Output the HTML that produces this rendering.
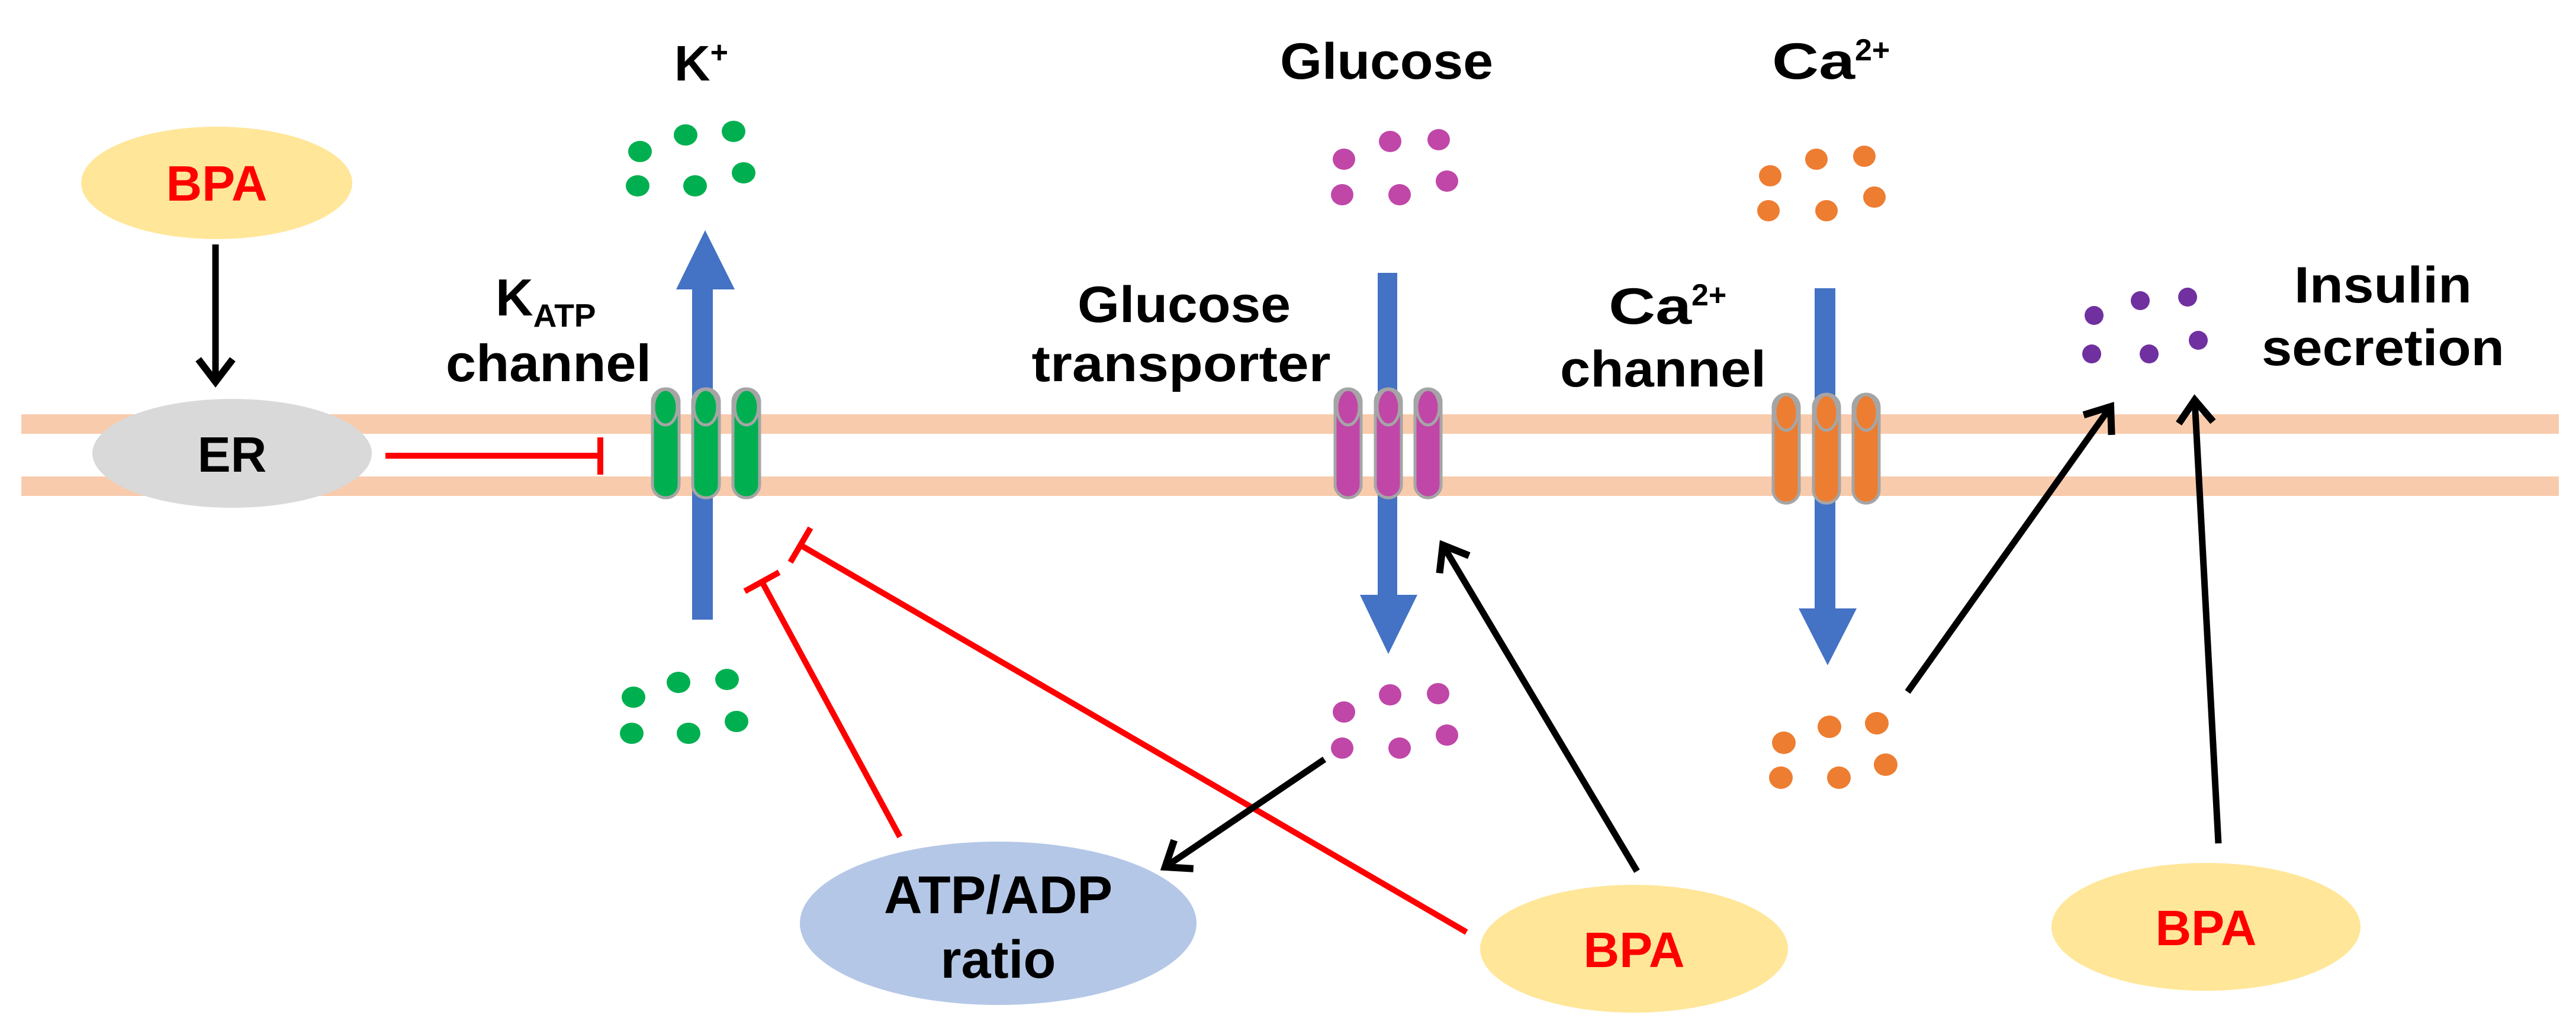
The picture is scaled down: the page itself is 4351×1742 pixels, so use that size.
<!DOCTYPE html>
<html><head><meta charset="utf-8"><style>
html,body{margin:0;padding:0;background:#fff;}
svg{display:block;}
text{font-family:"Liberation Sans",Arial,sans-serif;font-weight:bold;}
</style></head><body>
<svg width="4351" height="1742" viewBox="0 0 4351 1742" xmlns="http://www.w3.org/2000/svg">
<defs>
<marker id="ah" markerWidth="10" markerHeight="10" refX="8" refY="5" orient="auto" markerUnits="userSpaceOnUse" viewBox="0 0 10 10" style="overflow:visible">
<polyline points="-30,-24 8,5 -30,34" fill="none" stroke="#000" stroke-width="12"/>
</marker>
</defs>
<rect width="4351" height="1742" fill="#fff"/>
<rect x="36" y="700" width="4286" height="33" fill="#f8cbad"/>
<rect x="36" y="805" width="4286" height="33" fill="#f8cbad"/>

<ellipse cx="366" cy="309" rx="229" ry="95" fill="#ffe699"/>
<text x="366" y="339" font-size="84" fill="#ff0000" text-anchor="middle">BPA</text>
<line x1="364" y1="413" x2="364" y2="645" stroke="#000" stroke-width="11" marker-end="url(#ah)"/>

<ellipse cx="392" cy="766" rx="236" ry="92" fill="#d9d9d9"/>
<text x="392" y="797" font-size="84" fill="#000" text-anchor="middle">ER</text>
<line x1="651" y1="770" x2="1014" y2="770" stroke="#ff0000" stroke-width="10"/>
<line x1="1014" y1="739" x2="1014" y2="802" stroke="#ff0000" stroke-width="10"/>

<text x="1139" y="136" font-size="84">K<tspan font-size="52" dy="-30">+</tspan></text>
<g fill="#00b050">
<ellipse cx="1081" cy="256" rx="20" ry="18"/><ellipse cx="1158" cy="228" rx="20" ry="18"/><ellipse cx="1239" cy="222" rx="20" ry="18"/>
<ellipse cx="1077" cy="314" rx="20" ry="18"/><ellipse cx="1174" cy="314" rx="20" ry="18"/><ellipse cx="1256" cy="292" rx="20" ry="18"/>
<ellipse cx="1070" cy="1178" rx="20" ry="18"/><ellipse cx="1146" cy="1153" rx="20" ry="18"/><ellipse cx="1228" cy="1148" rx="20" ry="18"/>
<ellipse cx="1067" cy="1239" rx="20" ry="18"/><ellipse cx="1163" cy="1239" rx="20" ry="18"/><ellipse cx="1244" cy="1219" rx="20" ry="18"/>
</g>
<rect x="1169" y="485" width="35" height="562" fill="#4472c4"/>
<polygon points="1142,489 1241,489 1191,389" fill="#4472c4"/>
<text x="837" y="533" font-size="88">K<tspan font-size="55" dy="19">ATP</tspan></text>
<text x="753" y="644" font-size="88" textLength="347" lengthAdjust="spacingAndGlyphs">channel</text>
<g stroke="#a5a5a5" stroke-width="5" fill="#00b050">
<rect x="1102" y="657" width="45" height="184" rx="22"/><ellipse cx="1124" cy="688" rx="20" ry="30"/>
<rect x="1170" y="657" width="45" height="184" rx="22"/><ellipse cx="1192" cy="688" rx="20" ry="30"/>
<rect x="1238" y="657" width="45" height="184" rx="22"/><ellipse cx="1261" cy="688" rx="20" ry="30"/>
</g>

<text x="2342" y="133" font-size="86" text-anchor="middle" textLength="360" lengthAdjust="spacingAndGlyphs">Glucose</text>
<g fill="#c047a8">
<ellipse cx="2270" cy="269" rx="19" ry="18"/><ellipse cx="2348" cy="239" rx="19" ry="18"/><ellipse cx="2430" cy="236" rx="19" ry="18"/>
<ellipse cx="2267" cy="329" rx="19" ry="18"/><ellipse cx="2364" cy="329" rx="19" ry="18"/><ellipse cx="2444" cy="306" rx="19" ry="18"/>
<ellipse cx="2270" cy="1203" rx="19" ry="18"/><ellipse cx="2348" cy="1174" rx="19" ry="18"/><ellipse cx="2429" cy="1172" rx="19" ry="18"/>
<ellipse cx="2267" cy="1264" rx="19" ry="18"/><ellipse cx="2364" cy="1264" rx="19" ry="18"/><ellipse cx="2444" cy="1242" rx="19" ry="18"/>
</g>
<text x="2000" y="544" font-size="86" text-anchor="middle" textLength="360" lengthAdjust="spacingAndGlyphs">Glucose</text>
<text x="1995" y="644" font-size="86" text-anchor="middle" textLength="505" lengthAdjust="spacingAndGlyphs">transporter</text>
<rect x="2327" y="461" width="33" height="548" fill="#4472c4"/>
<polygon points="2297,1005 2394,1005 2345,1105" fill="#4472c4"/>
<g stroke="#a5a5a5" stroke-width="5" fill="#c047a8">
<rect x="2255" y="657" width="44" height="184" rx="22"/><ellipse cx="2277" cy="688" rx="19" ry="30"/>
<rect x="2323" y="657" width="44" height="184" rx="22"/><ellipse cx="2345" cy="688" rx="19" ry="30"/>
<rect x="2390" y="657" width="44" height="184" rx="22"/><ellipse cx="2412" cy="688" rx="19" ry="30"/>
</g>

<text x="2993" y="133" font-size="86" textLength="140" lengthAdjust="spacingAndGlyphs">Ca</text><text x="3133" y="102" font-size="52">2+</text>
<g fill="#ed7d31">
<ellipse cx="2990" cy="297" rx="19" ry="18"/><ellipse cx="3068" cy="269" rx="19" ry="18"/><ellipse cx="3149" cy="264" rx="19" ry="18"/>
<ellipse cx="2987" cy="356" rx="19" ry="18"/><ellipse cx="3085" cy="356" rx="19" ry="18"/><ellipse cx="3166" cy="333" rx="19" ry="18"/>
<ellipse cx="3013" cy="1255" rx="20" ry="19"/><ellipse cx="3090" cy="1228" rx="20" ry="19"/><ellipse cx="3170" cy="1222" rx="20" ry="19"/>
<ellipse cx="3008" cy="1314" rx="20" ry="19"/><ellipse cx="3106" cy="1314" rx="20" ry="19"/><ellipse cx="3185" cy="1292" rx="20" ry="19"/>
</g>
<text x="2717" y="547" font-size="86" textLength="140" lengthAdjust="spacingAndGlyphs">Ca</text><text x="2857" y="516" font-size="52">2+</text>
<text x="2635" y="653" font-size="86" textLength="348" lengthAdjust="spacingAndGlyphs">channel</text>
<rect x="3065" y="487" width="35" height="545" fill="#4472c4"/>
<polygon points="3038,1028 3136,1028 3087,1124" fill="#4472c4"/>
<g stroke="#a5a5a5" stroke-width="5" fill="#ed7d31">
<rect x="2995" y="666" width="44" height="184" rx="22"/><ellipse cx="3017" cy="697" rx="19" ry="30"/>
<rect x="3063" y="666" width="44" height="184" rx="22"/><ellipse cx="3085" cy="697" rx="19" ry="30"/>
<rect x="3130" y="666" width="44" height="184" rx="22"/><ellipse cx="3152" cy="697" rx="19" ry="30"/>
</g>

<g fill="#7030a0">
<ellipse cx="3537" cy="533" rx="16" ry="16"/><ellipse cx="3615" cy="508" rx="16" ry="16"/><ellipse cx="3695" cy="502" rx="16" ry="16"/>
<ellipse cx="3533" cy="598" rx="16" ry="16"/><ellipse cx="3630" cy="598" rx="16" ry="16"/><ellipse cx="3713" cy="575" rx="16" ry="16"/>
</g>
<text x="4025" y="511" font-size="86" text-anchor="middle" textLength="300" lengthAdjust="spacingAndGlyphs">Insulin</text>
<text x="4025" y="617" font-size="86" text-anchor="middle" textLength="410" lengthAdjust="spacingAndGlyphs">secretion</text>

<ellipse cx="1686" cy="1560" rx="335" ry="138" fill="#b4c7e7"/>
<text x="1686" y="1543" font-size="90" text-anchor="middle" textLength="386" lengthAdjust="spacingAndGlyphs">ATP/ADP</text>
<text x="1686" y="1652" font-size="90" text-anchor="middle">ratio</text>

<ellipse cx="2760" cy="1603" rx="260" ry="108" fill="#ffe699"/>
<text x="2760" y="1634" font-size="84" fill="#ff0000" text-anchor="middle">BPA</text>
<ellipse cx="3726" cy="1566" rx="261" ry="108" fill="#ffe699"/>
<text x="3726" y="1597" font-size="84" fill="#ff0000" text-anchor="middle">BPA</text>

<g stroke="#ff0000" stroke-width="10">
<line x1="1520" y1="1414" x2="1287" y2="983"/>
<line x1="1316" y1="967" x2="1258" y2="999"/>
<line x1="2477" y1="1575" x2="1352" y2="921"/>
<line x1="1369" y1="892" x2="1335" y2="950"/>
</g>

<g stroke="#000" stroke-width="11" fill="none">
<line x1="2237" y1="1283" x2="1968" y2="1465" marker-end="url(#ah)"/>
<line x1="2765" y1="1472" x2="2437" y2="921" marker-end="url(#ah)"/>
<line x1="3222" y1="1169" x2="3565" y2="687" marker-end="url(#ah)"/>
<line x1="3747" y1="1425" x2="3707" y2="676" marker-end="url(#ah)"/>
</g>
</svg>
</body></html>
